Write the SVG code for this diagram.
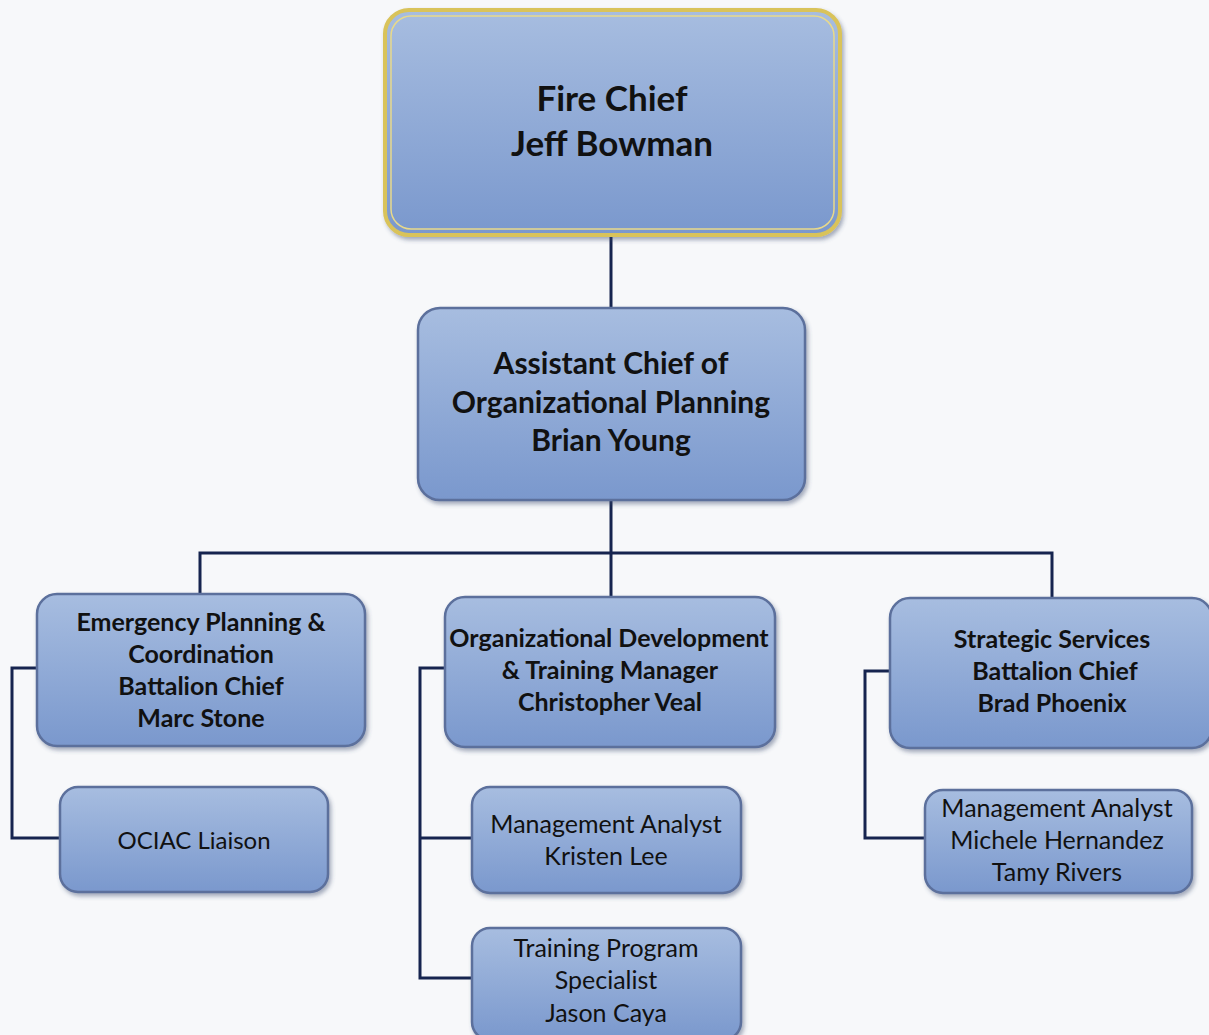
<svg xmlns="http://www.w3.org/2000/svg" width="1209" height="1035" viewBox="0 0 1209 1035">
<defs>
<linearGradient id="g" x1="0" y1="0" x2="0" y2="1">
<stop offset="0" stop-color="#a7bde0"/>
<stop offset="1" stop-color="#7a98cd"/>
</linearGradient>
<filter id="sh" x="-10%" y="-10%" width="120%" height="130%">
<feDropShadow dx="2" dy="3" stdDeviation="2" flood-color="#3a4a70" flood-opacity="0.45"/>
</filter>
</defs>
<style>
.box{fill:url(#g);stroke:#5b6f9c;stroke-width:2.5;filter:url(#sh)}
.gold{fill:url(#g);stroke:#d9c35a;stroke-width:4;filter:url(#sh)}
.gold2{fill:none;stroke:#e8d98a;stroke-width:1.5}
.conn{fill:none;stroke:#16244f;stroke-width:3}
text{font-family:Lato,"Open Sans","Liberation Sans",sans-serif;fill:#111;text-anchor:middle}
.b{font-weight:bold}
.t1{font-size:35px}
.t2{font-size:30px}
.t3{font-size:25px}
.t4{font-size:25px}
.t5{font-size:24px}
</style>
<rect width="1209" height="1035" fill="#f7f8fa"/>
<g id="connectors">
<path class="conn" d="M611 235 V310"/>
<path class="conn" d="M611 500 V553 M200 596 V553 H1052 V598 M611 553 V598"/>
<path class="conn" d="M38 668 H12 V838 H60"/>
<path class="conn" d="M446 668 H420 V978 H472 M420 838 H472"/>
<path class="conn" d="M891 671 H865 V838 H925"/>
</g>
<g id="fire-chief">
<rect class="gold" x="385" y="10" width="455" height="225" rx="24"/>
<rect class="gold2" x="391" y="16" width="443" height="213" rx="20"/>
<text class="b t1" x="612" y="111">Fire Chief</text>
<text class="b t1" x="612" y="156">Jeff Bowman</text>
</g>
<g id="assistant-chief">
<rect class="box" x="418" y="308" width="387" height="192" rx="22"/>
<text class="b t2" x="611" y="374">Assistant Chief of</text>
<text class="b t2" x="611" y="413">Organizational Planning</text>
<text class="b t2" x="611" y="451">Brian Young</text>
</g>
<g id="emergency">
<rect class="box" x="37" y="594" width="328" height="152" rx="20"/>
<text class="b t3" x="201" y="631">Emergency Planning &amp;</text>
<text class="b t3" x="201" y="663">Coordination</text>
<text class="b t3" x="201" y="695">Battalion Chief</text>
<text class="b t3" x="201" y="727">Marc Stone</text>
</g>
<g id="org-dev">
<rect class="box" x="445" y="597" width="330" height="150" rx="20"/>
<text class="b t3" x="609" y="647">Organizational Development</text>
<text class="b t3" x="610" y="679">&amp; Training Manager</text>
<text class="b t3" x="610" y="711">Christopher Veal</text>
</g>
<g id="strategic">
<rect class="box" x="890" y="598" width="322" height="150" rx="20"/>
<text class="b t3" x="1052" y="648">Strategic Services</text>
<text class="b t3" x="1055" y="680">Battalion Chief</text>
<text class="b t3" x="1052" y="712">Brad Phoenix</text>
</g>
<g id="ociac">
<rect class="box" x="60" y="787" width="268" height="105" rx="18"/>
<text class="t5" x="194" y="849">OCIAC Liaison</text>
</g>
<g id="analyst-lee">
<rect class="box" x="472" y="787" width="269" height="106" rx="18"/>
<text class="t4" x="606" y="833">Management Analyst</text>
<text class="t4" x="606" y="865">Kristen Lee</text>
</g>
<g id="training">
<rect class="box" x="472" y="928" width="269" height="112" rx="18"/>
<text class="t4" x="606" y="957">Training Program</text>
<text class="t4" x="606" y="989">Specialist</text>
<text class="t4" x="606" y="1022">Jason Caya</text>
</g>
<g id="analyst-hernandez">
<rect class="box" x="925" y="790" width="267" height="103" rx="18"/>
<text class="t4" x="1057" y="817">Management Analyst</text>
<text class="t4" x="1057" y="849">Michele Hernandez</text>
<text class="t4" x="1057" y="881">Tamy Rivers</text>
</g>
</svg>
